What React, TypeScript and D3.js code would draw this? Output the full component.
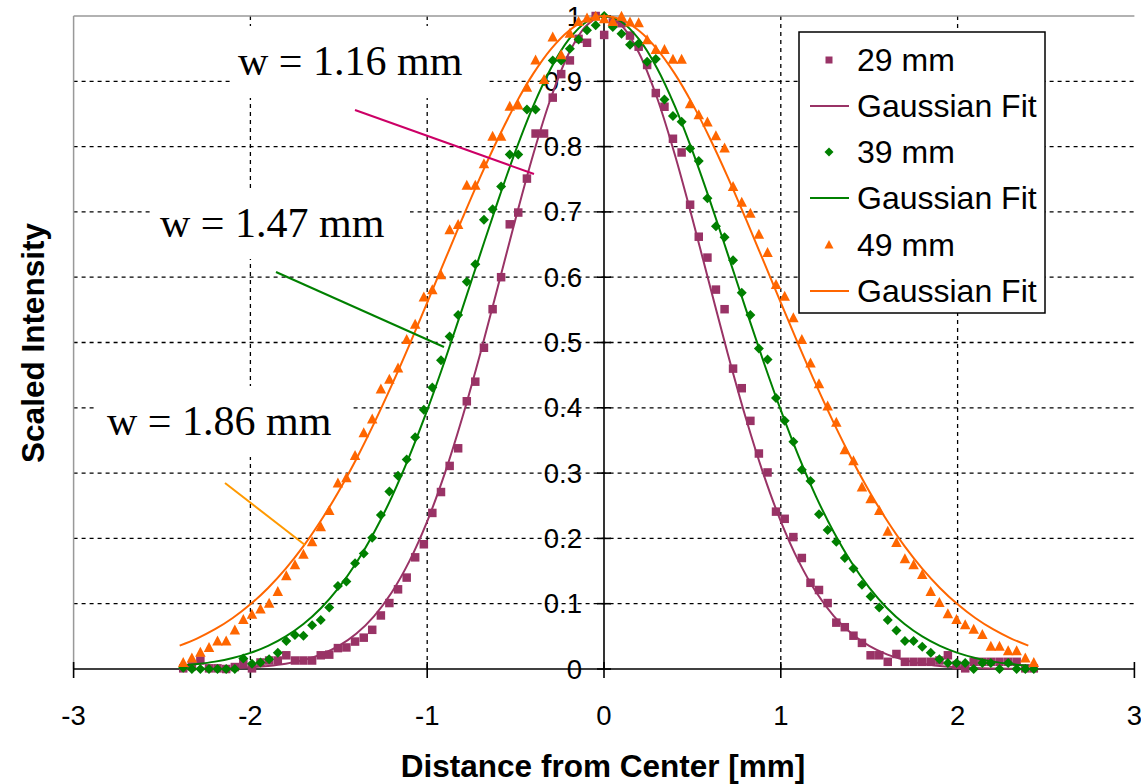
import React from "react";
import * as d3 from "d3";

// ---------- data ----------
const positions = [-2.380,-2.331,-2.283,-2.234,-2.186,-2.137,-2.088,-2.040,-1.991,-1.943,-1.894,-1.845,-1.797,-1.748,-1.700,-1.651,-1.602,-1.554,-1.505,-1.457,-1.408,-1.359,-1.311,-1.262,-1.214,-1.165,-1.116,-1.068,-1.019,-0.971,-0.922,-0.873,-0.825,-0.776,-0.728,-0.679,-0.630,-0.582,-0.533,-0.485,-0.436,-0.387,-0.339,-0.290,-0.242,-0.193,-0.144,-0.096,-0.047,0.001,0.050,0.099,0.147,0.196,0.244,0.293,0.342,0.390,0.439,0.487,0.536,0.585,0.633,0.682,0.730,0.779,0.828,0.876,0.925,0.973,1.022,1.071,1.119,1.168,1.216,1.265,1.314,1.362,1.411,1.459,1.508,1.557,1.605,1.654,1.702,1.751,1.800,1.848,1.897,1.945,1.994,2.043,2.091,2.140,2.188,2.237,2.286,2.334,2.383,2.431];

const intensity29 = [0.001,0.004,0.013,0.001,0.001,0.000,0.003,0.009,0.001,0.010,0.013,0.013,0.021,0.013,0.013,0.013,0.021,0.022,0.032,0.033,0.042,0.048,0.060,0.082,0.101,0.122,0.140,0.171,0.191,0.239,0.271,0.311,0.338,0.410,0.440,0.492,0.551,0.600,0.681,0.699,0.751,0.820,0.820,0.875,0.911,0.932,0.965,0.959,1.000,0.971,0.990,0.989,0.970,0.953,0.925,0.882,0.861,0.812,0.791,0.711,0.662,0.630,0.581,0.551,0.460,0.430,0.380,0.330,0.301,0.241,0.230,0.202,0.170,0.132,0.121,0.101,0.071,0.064,0.051,0.040,0.021,0.021,0.011,0.023,0.011,0.011,0.011,0.011,0.013,0.021,0.006,0.001,0.011,0.011,0.011,0.011,0.011,0.011,0.001,0.001];

const intensity39 = [0.002,0.000,0.000,0.000,0.000,0.000,0.000,0.016,0.008,0.010,0.015,0.025,0.043,0.052,0.051,0.067,0.075,0.094,0.127,0.134,0.162,0.177,0.201,0.236,0.272,0.296,0.321,0.355,0.397,0.431,0.473,0.509,0.542,0.593,0.620,0.688,0.704,0.739,0.788,0.788,0.857,0.857,0.900,0.932,0.932,0.950,0.964,0.978,0.986,1.000,0.983,0.973,0.956,0.958,0.930,0.934,0.872,0.847,0.838,0.797,0.778,0.721,0.678,0.661,0.626,0.576,0.542,0.491,0.474,0.415,0.380,0.348,0.305,0.288,0.237,0.213,0.195,0.170,0.154,0.129,0.111,0.094,0.075,0.059,0.043,0.043,0.034,0.025,0.015,0.009,0.009,0.009,0.000,0.009,0.009,0.000,0.009,0.000,0.000,0.000];

const intensity49 = [0.009,0.016,0.025,0.032,0.042,0.042,0.059,0.075,0.083,0.091,0.100,0.118,0.142,0.159,0.175,0.194,0.217,0.242,0.284,0.292,0.326,0.361,0.382,0.428,0.443,0.460,0.504,0.527,0.569,0.580,0.603,0.672,0.680,0.740,0.740,0.773,0.815,0.815,0.861,0.863,0.890,0.932,0.902,0.967,0.940,0.973,0.991,0.996,0.999,0.995,0.991,0.999,0.990,0.989,0.963,0.948,0.948,0.933,0.933,0.865,0.848,0.837,0.816,0.797,0.738,0.714,0.697,0.665,0.637,0.588,0.570,0.537,0.504,0.468,0.436,0.402,0.377,0.335,0.318,0.278,0.260,0.242,0.210,0.193,0.168,0.159,0.144,0.118,0.101,0.084,0.075,0.067,0.060,0.052,0.034,0.034,0.027,0.027,0.016,0.009];

const fitPositions = [-2.4,-2.3,-2.2,-2.1,-2.0,-1.9,-1.8,-1.7,-1.6,-1.5,-1.4,-1.3,-1.2,-1.1,-1.0,-0.9,-0.8,-0.7,-0.6,-0.5,-0.4,-0.3,-0.2,-0.1,0,0.1,0.2,0.3,0.4,0.5,0.6,0.7,0.8,0.9,1.0,1.1,1.2,1.3,1.4,1.5,1.6,1.7,1.8,1.9,2.0,2.1,2.2,2.3,2.4];

const fit29 = [0.0002,0.0004,0.0008,0.0014,0.0026,0.0047,0.0081,0.0136,0.0223,0.0353,0.0543,0.0811,0.1176,0.1656,0.2262,0.3000,0.3863,0.4828,0.5856,0.6896,0.7883,0.8748,0.9423,0.9852,1,0.9852,0.9423,0.8748,0.7883,0.6896,0.5856,0.4828,0.3863,0.3000,0.2262,0.1656,0.1176,0.0811,0.0543,0.0353,0.0223,0.0136,0.0081,0.0047,0.0026,0.0014,0.0008,0.0004,0.0002];

const fit39 = [0.0048,0.0075,0.0113,0.0169,0.0247,0.0354,0.0499,0.0689,0.0935,0.1246,0.1630,0.2093,0.2637,0.3263,0.3963,0.4725,0.5531,0.6354,0.7166,0.7934,0.8624,0.9201,0.9637,0.9908,1,0.9908,0.9637,0.9201,0.8624,0.7934,0.7166,0.6354,0.5531,0.4725,0.3963,0.3263,0.2637,0.2093,0.1630,0.1246,0.0935,0.0689,0.0499,0.0354,0.0247,0.0169,0.0113,0.0075,0.0048];

const fit49 = [0.0358,0.0470,0.0609,0.0781,0.0990,0.1241,0.1537,0.1881,0.2277,0.2723,0.3220,0.3765,0.4350,0.4968,0.5610,0.6261,0.6907,0.7533,0.8121,0.8654,0.9117,0.9493,0.9771,0.9942,1,0.9942,0.9771,0.9493,0.9117,0.8654,0.8121,0.7533,0.6907,0.6261,0.5610,0.4968,0.4350,0.3765,0.3220,0.2723,0.2277,0.1881,0.1537,0.1241,0.0990,0.0781,0.0609,0.0470,0.0358];

const xTicks = [-3, -2, -1, 0, 1, 2, 3];
const xGrid = [-2, -1, 1, 2];
const yTicks = [0, 0.1, 0.2, 0.3, 0.4, 0.5, 0.6, 0.7, 0.8, 0.9, 1];
const yTickLabels = ["0", "0.1", "0.2", "0.3", "0.4", "0.5", "0.6", "0.7", "0.8", "0.9", "1"];
const legendLabels = ["29 mm", "Gaussian Fit", "39 mm", "Gaussian Fit", "49 mm", "Gaussian Fit"];
const widthLabels = ["w = 1.16 mm", "w = 1.47 mm", "w = 1.86 mm"];

// ---------- styling ----------
const C29 = "#993366";
const C39 = "#008000";
const C49 = "#ff6600";
const SANS = "'Liberation Sans', Arial, sans-serif";
const SERIF = "'Liberation Serif', 'Times New Roman', serif";

const W = 1141, H = 784;
const x = d3.scaleLinear().domain([-3, 3]).range([73.6, 1134.4]);
const y = d3.scaleLinear().domain([0, 1]).range([669, 16]);

const squarePath = (s: number) => `M${-s / 2},${-s / 2}h${s}v${s}h${-s}Z`;
const diamondPath = (r: number) => `M0,${-r}L${r},0L0,${r}L${-r},0Z`;
const trianglePath = (w: number, h: number) => `M0,${-h * 0.6}L${w / 2},${h * 0.4}L${-w / 2},${h * 0.4}Z`;

const lineGen = (vals: number[]) =>
  d3.line<number>()
    .x((_, i) => x(fitPositions[i]))
    .y((v) => y(v))
    .curve(d3.curveCatmullRom)(vals) || "";

export default function App() {
  const markers = (vals: number[], path: string, color: string) =>
    vals.map((v, i) => (
      <path key={i} d={path} transform={`translate(${x(positions[i])},${y(v)})`} fill={color} />
    ));

  const annots = [
    { text: widthLabels[0], tx: 238, base: 75, box: [230, 26, 258, 72], line: [355, 110, 534, 174], color: "#cc0066" },
    { text: widthLabels[1], tx: 160, base: 237, box: [150, 188, 260, 71], line: [276, 272, 444, 347], color: "#008000" },
    { text: widthLabels[2], tx: 107, base: 435, box: [95, 386, 258, 71], line: [225, 483, 305, 545], color: "#ff9900" },
  ];

  const legendX = 799, legendY = 32, legendW = 246, legendH = 281;
  const rowY = [60, 106, 152, 198, 245, 291];

  return (
    <svg width={W} height={H} style={{ position: "absolute", left: 0, top: 0, background: "#fff" }}>
      <rect x={0} y={0} width={W} height={H} fill="#fff" />

      {yTicks.map((t, i) => (
        <text key={"yl" + i} x={582} y={y(t)} textAnchor="end" dominantBaseline="central"
          fontFamily={SANS} fontSize={27.5} fill="#000">{yTickLabels[i]}</text>
      ))}

      {yTicks.filter((t) => t > 0 && t < 1).map((t, i) => (
        <line key={"gy" + i} x1={x(-3)} x2={x(3)} y1={y(t)} y2={y(t)} stroke="#000" strokeWidth={1.3} strokeDasharray="4,4" />
      ))}
      {xGrid.map((t, i) => (
        <line key={"gx" + i} x1={x(t)} x2={x(t)} y1={y(1)} y2={y(0)} stroke="#000" strokeWidth={1.3} strokeDasharray="4,4" />
      ))}

      <line x1={x(-3)} x2={x(3)} y1={y(1)} y2={y(1)} stroke="#999" strokeWidth={1.5} />
      <line x1={x(-3)} x2={x(-3)} y1={y(1)} y2={y(0)} stroke="#999" strokeWidth={1.5} />

      <line x1={x(-3)} x2={x(3)} y1={y(0)} y2={y(0)} stroke="#000" strokeWidth={1.6} />
      <line x1={x(0)} x2={x(0)} y1={y(1)} y2={y(0)} stroke="#000" strokeWidth={1.6} />
      {xTicks.map((t, i) => (
        <line key={"xt" + i} x1={x(t)} x2={x(t)} y1={y(0) - 7} y2={y(0) + 9} stroke="#000" strokeWidth={1.6} />
      ))}
      {yTicks.map((t, i) => (
        <line key={"yt" + i} x1={x(0) - 7} x2={x(0) + 7} y1={y(t)} y2={y(t)} stroke="#000" strokeWidth={1.6} />
      ))}
      {xTicks.map((t, i) => (
        <text key={"xl" + i} x={x(t)} y={715} textAnchor="middle" dominantBaseline="central"
          fontFamily={SANS} fontSize={27.5} fill="#000">{t < 0 ? `-${Math.abs(t)}` : `${t}`}</text>
      ))}

      <text x={603} y={766} textAnchor="middle" dominantBaseline="central" fontFamily={SANS}
        fontWeight="bold" fontSize={31.5} fill="#000">Distance from Center [mm]</text>
      <text transform="translate(33,343) rotate(-90)" textAnchor="middle" dominantBaseline="central"
        fontFamily={SANS} fontWeight="bold" fontSize={31.5} fill="#000">Scaled Intensity</text>

      {annots.map((a, i) => (
        <g key={"ab" + i}>
          <rect x={a.box[0]} y={a.box[1]} width={a.box[2]} height={a.box[3]} fill="#fff" />
          <text x={a.tx} y={a.base} fontFamily={SERIF} fontSize={42} fill="#000">{a.text}</text>
        </g>
      ))}

      {markers(intensity29, squarePath(8.5), C29)}
      <path d={lineGen(fit29)} fill="none" stroke={C29} strokeWidth={2} />
      {markers(intensity39, diamondPath(5), C39)}
      <path d={lineGen(fit39)} fill="none" stroke={C39} strokeWidth={2} />
      {markers(intensity49, trianglePath(10.5, 10), C49)}
      <path d={lineGen(fit49)} fill="none" stroke={C49} strokeWidth={2} />

      {annots.map((a, i) => (
        <line key={"al" + i} x1={a.line[0]} y1={a.line[1]} x2={a.line[2]} y2={a.line[3]} stroke={a.color} strokeWidth={2} />
      ))}

      <rect x={legendX} y={legendY} width={legendW} height={legendH} fill="#fff" stroke="#000" strokeWidth={1.5} />
      {legendLabels.map((lab, i) => (
        <text key={"lg" + i} x={857} y={rowY[i]} dominantBaseline="central" fontFamily={SANS} fontSize={32} fill="#000">{lab}</text>
      ))}
      <path d={squarePath(7)} transform={`translate(829,${rowY[0]})`} fill={C29} />
      <line x1={810} x2={849} y1={rowY[1]} y2={rowY[1]} stroke={C29} strokeWidth={2} />
      <path d={diamondPath(4.5)} transform={`translate(829,${rowY[2]})`} fill={C39} />
      <line x1={810} x2={849} y1={rowY[3]} y2={rowY[3]} stroke={C39} strokeWidth={2} />
      <path d={trianglePath(9, 8.5)} transform={`translate(829,${rowY[4]})`} fill={C49} />
      <line x1={810} x2={849} y1={rowY[5]} y2={rowY[5]} stroke={C49} strokeWidth={2} />
    </svg>
  );
}
